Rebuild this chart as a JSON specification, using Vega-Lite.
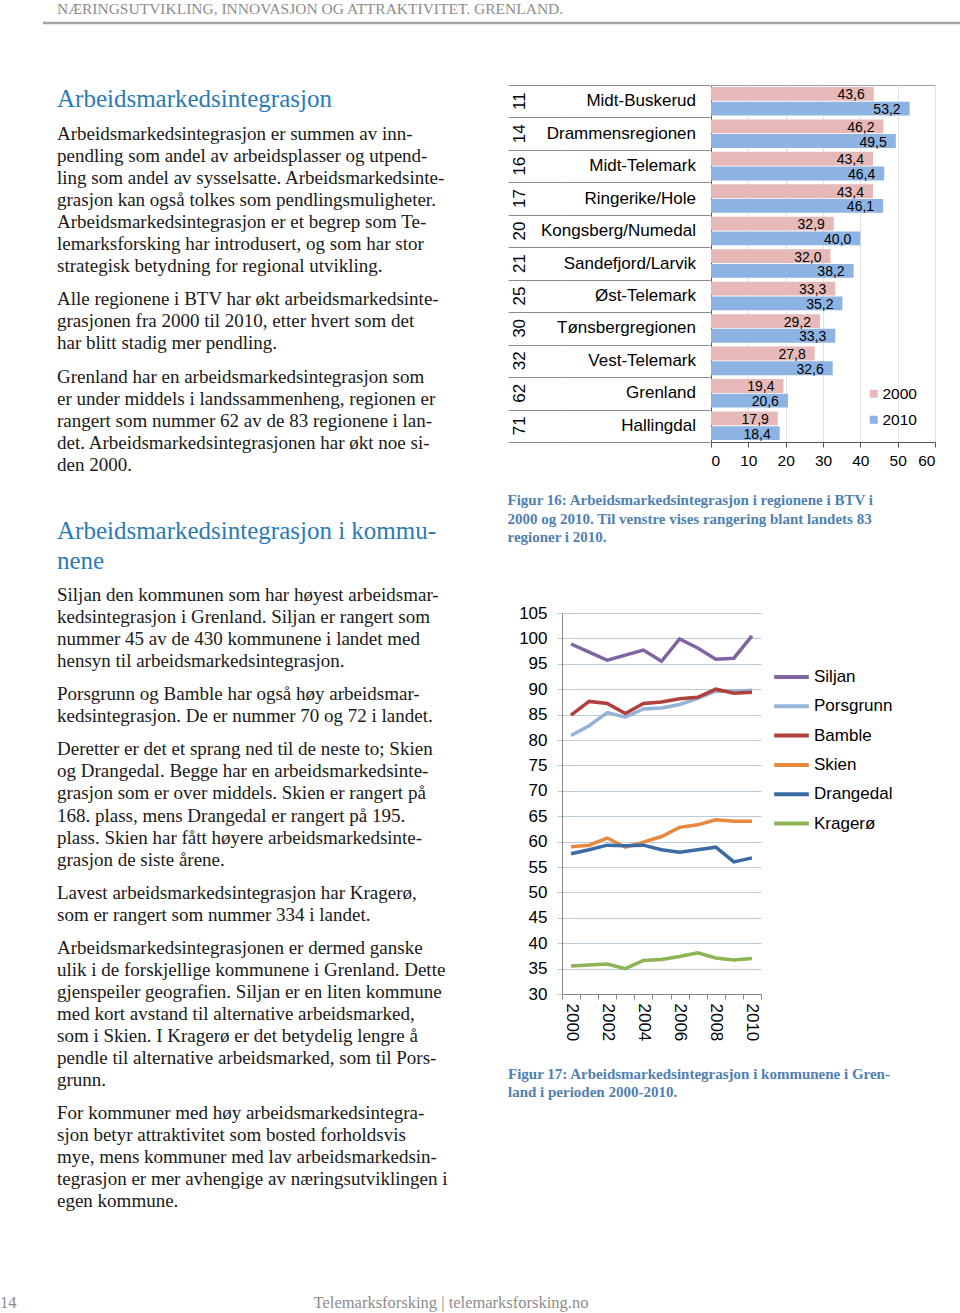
{
  "$schema": "https://vega.github.io/schema/vega-lite/v6.json",
  "padding": 0,
  "background": "white",
  "spacing": 0,
  "config": {
    "view": {"stroke": null},
    "locale": {"number": {"decimal": ",", "thousands": " ", "grouping": [3], "currency": ["", " kr"]}}
  },
  "resolve": {"scale": {"color": "independent", "size": "independent"}, "legend": {"color": "independent", "size": "independent"}},
  "datasets": {
    "text": [
      {"line": 0.64, "kind": "head", "t": "Arbeidsmarkedsintegrasjon"},
      {"line": 2.22, "kind": "body", "t": "Arbeidsmarkedsintegrasjon er summen av inn-"},
      {"line": 3.22, "kind": "body", "t": "pendling som andel av arbeidsplasser og utpend-"},
      {"line": 4.22, "kind": "body", "t": "ling som andel av sysselsatte. Arbeidsmarkedsinte-"},
      {"line": 5.22, "kind": "body", "t": "grasjon kan også tolkes som pendlingsmuligheter."},
      {"line": 6.22, "kind": "body", "t": "Arbeidsmarkedsintegrasjon er et begrep som Te-"},
      {"line": 7.22, "kind": "body", "t": "lemarksforsking har introdusert, og som har stor"},
      {"line": 8.22, "kind": "body", "t": "strategisk betydning for regional utvikling."},
      {"line": 9.72, "kind": "body", "t": "Alle regionene i BTV har økt arbeidsmarkedsinte-"},
      {"line": 10.72, "kind": "body", "t": "grasjonen fra 2000 til 2010, etter hvert som det"},
      {"line": 11.72, "kind": "body", "t": "har blitt stadig mer pendling."},
      {"line": 13.22, "kind": "body", "t": "Grenland har en arbeidsmarkedsintegrasjon som"},
      {"line": 14.22, "kind": "body", "t": "er under middels i landssammenheng, regionen er"},
      {"line": 15.22, "kind": "body", "t": "rangert som nummer 62 av de 83 regionene i lan-"},
      {"line": 16.22, "kind": "body", "t": "det. Arbeidsmarkedsintegrasjonen har økt noe si-"},
      {"line": 17.22, "kind": "body", "t": "den 2000."},
      {"line": 20.23, "kind": "head", "t": "Arbeidsmarkedsintegrasjon i kommu-"},
      {"line": 21.59, "kind": "head", "t": "nene"},
      {"line": 23.13, "kind": "body", "t": "Siljan den kommunen som har høyest arbeidsmar-"},
      {"line": 24.13, "kind": "body", "t": "kedsintegrasjon i Grenland. Siljan er rangert som"},
      {"line": 25.13, "kind": "body", "t": "nummer 45 av de 430 kommunene i landet med"},
      {"line": 26.13, "kind": "body", "t": "hensyn til arbeidsmarkedsintegrasjon."},
      {"line": 27.63, "kind": "body", "t": "Porsgrunn og Bamble har også høy arbeidsmar-"},
      {"line": 28.63, "kind": "body", "t": "kedsintegrasjon. De er nummer 70 og 72 i landet."},
      {"line": 30.13, "kind": "body", "t": "Deretter er det et sprang ned til de neste to; Skien"},
      {"line": 31.13, "kind": "body", "t": "og Drangedal. Begge har en arbeidsmarkedsinte-"},
      {"line": 32.13, "kind": "body", "t": "grasjon som er over middels. Skien er rangert på"},
      {"line": 33.13, "kind": "body", "t": "168. plass, mens Drangedal er rangert på 195."},
      {"line": 34.13, "kind": "body", "t": "plass. Skien har fått høyere arbeidsmarkedsinte-"},
      {"line": 35.13, "kind": "body", "t": "grasjon de siste årene."},
      {"line": 36.63, "kind": "body", "t": "Lavest arbeidsmarkedsintegrasjon har Kragerø,"},
      {"line": 37.63, "kind": "body", "t": "som er rangert som nummer 334 i landet."},
      {"line": 39.13, "kind": "body", "t": "Arbeidsmarkedsintegrasjonen er dermed ganske"},
      {"line": 40.13, "kind": "body", "t": "ulik i de forskjellige kommunene i Grenland. Dette"},
      {"line": 41.13, "kind": "body", "t": "gjenspeiler geografien. Siljan er en liten kommune"},
      {"line": 42.13, "kind": "body", "t": "med kort avstand til alternative arbeidsmarked,"},
      {"line": 43.13, "kind": "body", "t": "som i Skien. I Kragerø er det betydelig lengre å"},
      {"line": 44.13, "kind": "body", "t": "pendle til alternative arbeidsmarked, som til Pors-"},
      {"line": 45.13, "kind": "body", "t": "grunn."},
      {"line": 46.63, "kind": "body", "t": "For kommuner med høy arbeidsmarkedsintegra-"},
      {"line": 47.63, "kind": "body", "t": "sjon betyr attraktivitet som bosted forholdsvis"},
      {"line": 48.63, "kind": "body", "t": "mye, mens kommuner med lav arbeidsmarkedsin-"},
      {"line": 49.63, "kind": "body", "t": "tegrasjon er mer avhengige av næringsutviklingen i"},
      {"line": 50.63, "kind": "body", "t": "egen kommune."}
    ],
    "regions": [
      {"region": "Midt-Buskerud", "rank": "11"},
      {"region": "Drammensregionen", "rank": "14"},
      {"region": "Midt-Telemark", "rank": "16"},
      {"region": "Ringerike/Hole", "rank": "17"},
      {"region": "Kongsberg/Numedal", "rank": "20"},
      {"region": "Sandefjord/Larvik", "rank": "21"},
      {"region": "Øst-Telemark", "rank": "25"},
      {"region": "Tønsbergregionen", "rank": "30"},
      {"region": "Vest-Telemark", "rank": "32"},
      {"region": "Grenland", "rank": "62"},
      {"region": "Hallingdal", "rank": "71"}
    ],
    "bars": [
      {"region": "Midt-Buskerud", "year": "2000", "value": 43.6},
      {"region": "Midt-Buskerud", "year": "2010", "value": 53.2},
      {"region": "Drammensregionen", "year": "2000", "value": 46.2},
      {"region": "Drammensregionen", "year": "2010", "value": 49.5},
      {"region": "Midt-Telemark", "year": "2000", "value": 43.4},
      {"region": "Midt-Telemark", "year": "2010", "value": 46.4},
      {"region": "Ringerike/Hole", "year": "2000", "value": 43.4},
      {"region": "Ringerike/Hole", "year": "2010", "value": 46.1},
      {"region": "Kongsberg/Numedal", "year": "2000", "value": 32.9},
      {"region": "Kongsberg/Numedal", "year": "2010", "value": 40.0},
      {"region": "Sandefjord/Larvik", "year": "2000", "value": 32.0},
      {"region": "Sandefjord/Larvik", "year": "2010", "value": 38.2},
      {"region": "Øst-Telemark", "year": "2000", "value": 33.3},
      {"region": "Øst-Telemark", "year": "2010", "value": 35.2},
      {"region": "Tønsbergregionen", "year": "2000", "value": 29.2},
      {"region": "Tønsbergregionen", "year": "2010", "value": 33.3},
      {"region": "Vest-Telemark", "year": "2000", "value": 27.8},
      {"region": "Vest-Telemark", "year": "2010", "value": 32.6},
      {"region": "Grenland", "year": "2000", "value": 19.4},
      {"region": "Grenland", "year": "2010", "value": 20.6},
      {"region": "Hallingdal", "year": "2000", "value": 17.9},
      {"region": "Hallingdal", "year": "2010", "value": 18.4}
    ],
    "lines": [
      {"kommune": "Siljan", "year": 2000, "value": 98.9},
      {"kommune": "Siljan", "year": 2001, "value": 97.3},
      {"kommune": "Siljan", "year": 2002, "value": 95.7},
      {"kommune": "Siljan", "year": 2003, "value": 96.7},
      {"kommune": "Siljan", "year": 2004, "value": 97.7},
      {"kommune": "Siljan", "year": 2005, "value": 95.5},
      {"kommune": "Siljan", "year": 2006, "value": 99.9},
      {"kommune": "Siljan", "year": 2007, "value": 98.1},
      {"kommune": "Siljan", "year": 2008, "value": 95.9},
      {"kommune": "Siljan", "year": 2009, "value": 96.1},
      {"kommune": "Siljan", "year": 2010, "value": 100.5},
      {"kommune": "Porsgrunn", "year": 2000, "value": 80.9},
      {"kommune": "Porsgrunn", "year": 2001, "value": 82.8},
      {"kommune": "Porsgrunn", "year": 2002, "value": 85.4},
      {"kommune": "Porsgrunn", "year": 2003, "value": 84.5},
      {"kommune": "Porsgrunn", "year": 2004, "value": 86.1},
      {"kommune": "Porsgrunn", "year": 2005, "value": 86.3},
      {"kommune": "Porsgrunn", "year": 2006, "value": 87.0},
      {"kommune": "Porsgrunn", "year": 2007, "value": 88.2},
      {"kommune": "Porsgrunn", "year": 2008, "value": 89.6},
      {"kommune": "Porsgrunn", "year": 2009, "value": 89.6},
      {"kommune": "Porsgrunn", "year": 2010, "value": 89.8},
      {"kommune": "Bamble", "year": 2000, "value": 84.9},
      {"kommune": "Bamble", "year": 2001, "value": 87.6},
      {"kommune": "Bamble", "year": 2002, "value": 87.2},
      {"kommune": "Bamble", "year": 2003, "value": 85.2},
      {"kommune": "Bamble", "year": 2004, "value": 87.2},
      {"kommune": "Bamble", "year": 2005, "value": 87.5},
      {"kommune": "Bamble", "year": 2006, "value": 88.1},
      {"kommune": "Bamble", "year": 2007, "value": 88.4},
      {"kommune": "Bamble", "year": 2008, "value": 90.0},
      {"kommune": "Bamble", "year": 2009, "value": 89.2},
      {"kommune": "Bamble", "year": 2010, "value": 89.4},
      {"kommune": "Skien", "year": 2000, "value": 59.0},
      {"kommune": "Skien", "year": 2001, "value": 59.3},
      {"kommune": "Skien", "year": 2002, "value": 60.7},
      {"kommune": "Skien", "year": 2003, "value": 58.9},
      {"kommune": "Skien", "year": 2004, "value": 59.9},
      {"kommune": "Skien", "year": 2005, "value": 61.0},
      {"kommune": "Skien", "year": 2006, "value": 62.8},
      {"kommune": "Skien", "year": 2007, "value": 63.3},
      {"kommune": "Skien", "year": 2008, "value": 64.3},
      {"kommune": "Skien", "year": 2009, "value": 64.0},
      {"kommune": "Skien", "year": 2010, "value": 64.0},
      {"kommune": "Drangedal", "year": 2000, "value": 57.6},
      {"kommune": "Drangedal", "year": 2001, "value": 58.4},
      {"kommune": "Drangedal", "year": 2002, "value": 59.3},
      {"kommune": "Drangedal", "year": 2003, "value": 59.2},
      {"kommune": "Drangedal", "year": 2004, "value": 59.3},
      {"kommune": "Drangedal", "year": 2005, "value": 58.4},
      {"kommune": "Drangedal", "year": 2006, "value": 57.9},
      {"kommune": "Drangedal", "year": 2007, "value": 58.4},
      {"kommune": "Drangedal", "year": 2008, "value": 58.9},
      {"kommune": "Drangedal", "year": 2009, "value": 56.0},
      {"kommune": "Drangedal", "year": 2010, "value": 56.8},
      {"kommune": "Kragerø", "year": 2000, "value": 35.5},
      {"kommune": "Kragerø", "year": 2001, "value": 35.7},
      {"kommune": "Kragerø", "year": 2002, "value": 35.9},
      {"kommune": "Kragerø", "year": 2003, "value": 35.0},
      {"kommune": "Kragerø", "year": 2004, "value": 36.6},
      {"kommune": "Kragerø", "year": 2005, "value": 36.8},
      {"kommune": "Kragerø", "year": 2006, "value": 37.4},
      {"kommune": "Kragerø", "year": 2007, "value": 38.1},
      {"kommune": "Kragerø", "year": 2008, "value": 37.1},
      {"kommune": "Kragerø", "year": 2009, "value": 36.7},
      {"kommune": "Kragerø", "year": 2010, "value": 37.0}
    ]
  },
  "vconcat": [
    {
      "width": 960,
      "height": 84,
      "view": {"stroke": null},
      "layer": [
        {
          "data": {"values": [{"t": "NÆRINGSUTVIKLING, INNOVASJON OG ATTRAKTIVITET. GRENLAND."}]},
          "mark": {"type": "text", "align": "left", "baseline": "middle", "font": "Liberation Serif", "fontSize": 15.5, "color": "#8c8c8c"},
          "encoding": {
            "x": {"datum": 57, "type": "quantitative", "scale": {"domain": [0, 960], "nice": false}, "axis": null},
            "y": {"datum": 9, "type": "quantitative", "scale": {"domain": [0, 84], "nice": false, "reverse": true}, "axis": null},
            "text": {"field": "t"}
          }
        },
        {
          "data": {"values": [{"t": "rule"}]},
          "mark": {"type": "rule", "color": "#a6a6a6", "strokeWidth": 2.5},
          "encoding": {
            "x": {"datum": 43, "type": "quantitative"},
            "x2": {"datum": 960},
            "y": {"datum": 23, "type": "quantitative"}
          }
        }
      ]
    },
    {
      "hconcat": [
        {
          "width": 480,
          "height": 1140,
          "view": {"stroke": null},
          "data": {"name": "text"},
          "mark": {"type": "text", "align": "left", "baseline": "middle", "font": "Liberation Serif"},
          "encoding": {
            "x": {"datum": 57, "type": "quantitative", "scale": {"domain": [0, 480], "nice": false}, "axis": null},
            "y": {"field": "line", "type": "quantitative", "scale": {"domain": [0, 51.7], "nice": false, "zero": false, "reverse": true}, "axis": null},
            "text": {"field": "t"},
            "color": {"field": "kind", "type": "nominal", "scale": {"domain": ["head", "body"], "range": ["#2a7ab8", "#1a1a1a"]}, "legend": null},
            "size": {"field": "kind", "type": "ordinal", "scale": {"domain": ["head", "body"], "range": [25, 19]}, "legend": null}
          }
        },
        {
          "vconcat": [
            {
              "title": {
                "text": ["Figur 16: Arbeidsmarkedsintegrasjon i regionene i BTV i", "2000 og 2010. Til venstre vises rangering blant landets 83", "regioner i 2010."],
                "orient": "bottom", "anchor": "start", "frame": "bounds",
                "font": "Liberation Serif", "fontSize": 15, "fontWeight": "bold", "color": "#4f7fb3", "lineHeight": 18.5, "offset": 24
              },
              "spacing": 0,
              "resolve": {"scale": {"color": "independent"}, "legend": {"color": "independent"}},
              "hconcat": [
                {
                  "width": 148,
                  "height": 357,
                  "view": {"stroke": null},
                  "data": {"name": "regions"},
                  "encoding": {
                    "y": {"field": "region", "type": "nominal", "sort": null, "scale": {"paddingInner": 0, "paddingOuter": 0},
                      "axis": {"grid": true, "tickBand": "extent", "domain": false, "ticks": true, "tickSize": 54, "tickColor": "#8c8c8c", "tickWidth": 1, "labels": false, "title": null, "gridColor": "#8c8c8c", "gridWidth": 1}}
                  },
                  "layer": [
                    {
                      "mark": {"type": "text", "align": "right", "baseline": "middle", "dx": -14, "font": "Liberation Sans", "fontSize": 17, "color": "#000000"},
                      "encoding": {
                        "x": {"datum": 148, "type": "quantitative", "scale": {"domain": [0, 148], "nice": false}, "axis": null},
                        "text": {"field": "region"}
                      }
                    },
                    {
                      "mark": {"type": "text", "align": "center", "baseline": "middle", "angle": 270, "font": "Liberation Sans", "fontSize": 17, "color": "#000000"},
                      "encoding": {
                        "x": {"datum": -42, "type": "quantitative"},
                        "text": {"field": "rank"}
                      }
                    }
                  ]
                },
                {
                  "width": 224,
                  "height": 357,
                  "view": {"stroke": "#a0a0a0"},
                  "data": {"name": "bars"},
                  "encoding": {
                    "y": {"field": "region", "type": "nominal", "sort": null, "scale": {"paddingInner": 0.12, "paddingOuter": 0.06},
                      "axis": {"labels": false, "ticks": false, "title": null, "grid": false, "domainColor": "#555555"}},
                    "yOffset": {"field": "year", "type": "nominal", "scale": {"paddingInner": 0.06}},
                    "x": {"field": "value", "type": "quantitative", "scale": {"domain": [0, 60], "nice": false},
                      "axis": {"values": [0, 10, 20, 30, 40, 50, 60], "title": null, "grid": true, "gridColor": "#e2e2e2", "domainColor": "#555555", "tickColor": "#555555", "tickSize": 5, "labelFontSize": 15.5, "labelFont": "Liberation Sans", "labelColor": "#000000", "labelPadding": 6}}
                  },
                  "layer": [
                    {
                      "mark": {"type": "bar"},
                      "encoding": {
                        "color": {"field": "year", "type": "nominal", "scale": {"domain": ["2000", "2010"], "range": ["#e6b9b8", "#8db3e2"]},
                          "legend": {"orient": "none", "legendX": 155, "legendY": 301, "title": null, "symbolType": "square", "symbolSize": 64, "labelFontSize": 15.5, "labelFont": "Liberation Sans", "labelColor": "#000000", "rowPadding": 9, "labelOffset": 1}}
                      }
                    },
                    {
                      "mark": {"type": "text", "align": "right", "baseline": "middle", "dx": -9, "dy": 1.5, "font": "Liberation Sans", "fontSize": 14, "color": "#000000"},
                      "encoding": {
                        "text": {"field": "value", "type": "quantitative", "format": ".1f"}
                      }
                    }
                  ]
                }
              ]
            },
            {
              "title": {
                "text": ["Figur 17: Arbeidsmarkedsintegrasjon i kommunene i Gren-", "land i perioden 2000-2010."],
                "orient": "bottom", "anchor": "start", "frame": "bounds",
                "font": "Liberation Serif", "fontSize": 15, "fontWeight": "bold", "color": "#4f7fb3", "lineHeight": 18.5, "offset": 26
              },
              "width": 199,
              "height": 381,
              "view": {"stroke": null},
              "data": {"name": "lines"},
              "mark": {"type": "line", "strokeWidth": 3.5},
              "encoding": {
                "x": {"field": "year", "type": "ordinal", "bandPosition": 0.5, "scale": {"type": "band", "paddingInner": 0, "paddingOuter": 0},
                  "axis": {"title": null, "tickBand": "extent", "labelAngle": 90, "labelAlign": "left", "labelBaseline": "middle", "labelExpr": "datum.value % 2 == 0 ? datum.label : ''", "labelFontSize": 17, "labelFont": "Liberation Sans", "labelColor": "#000000", "tickSize": 5, "tickColor": "#888888", "domainColor": "#888888", "labelPadding": 4, "grid": false}},
                "y": {"field": "value", "type": "quantitative", "scale": {"domain": [30, 105], "nice": false, "zero": false},
                  "axis": {"values": [30, 35, 40, 45, 50, 55, 60, 65, 70, 75, 80, 85, 90, 95, 100, 105], "title": null, "grid": true, "gridColor": "#bccadb", "tickColor": "#bccadb", "tickSize": 5, "domainColor": "#888888", "labelFontSize": 17, "labelFont": "Liberation Sans", "labelColor": "#000000", "labelPadding": 10, "minExtent": 54}},
                "color": {"field": "kommune", "type": "nominal", "sort": null,
                  "scale": {"domain": ["Siljan", "Porsgrunn", "Bamble", "Skien", "Drangedal", "Kragerø"], "range": ["#8064a2", "#95b3d7", "#b0403c", "#e8883e", "#3b6ba5", "#8db352"]},
                  "legend": {"orient": "none", "legendX": 210, "legendY": 55, "title": null, "symbolType": "stroke", "symbolSize": 1200, "symbolStrokeWidth": 4, "labelFontSize": 17, "labelFont": "Liberation Sans", "labelColor": "#000000", "clipHeight": 18, "rowPadding": 11.3, "labelOffset": 3}}
              }
            }
          ],
          "spacing": 59,
          "resolve": {"scale": {"color": "independent"}, "legend": {"color": "independent"}}
        }
      ],
      "spacing": 27,
      "resolve": {"scale": {"color": "independent", "size": "independent"}, "legend": {"color": "independent", "size": "independent"}}
    },
    {
      "width": 960,
      "height": 89,
      "view": {"stroke": null},
      "data": {"values": [{"t": "14", "pos": "left"}, {"t": "Telemarksforsking   |   telemarksforsking.no", "pos": "center"}]},
      "layer": [
        {
          "transform": [{"filter": "datum.pos == 'left'"}],
          "mark": {"type": "text", "align": "left", "baseline": "middle", "font": "Liberation Serif", "fontSize": 16.5, "color": "#8c8c8c"},
          "encoding": {
            "x": {"datum": 0, "type": "quantitative", "scale": {"domain": [0, 960], "nice": false}, "axis": null},
            "y": {"datum": 78, "type": "quantitative", "scale": {"domain": [0, 89], "nice": false, "reverse": true}, "axis": null},
            "text": {"field": "t"}
          }
        },
        {
          "transform": [{"filter": "datum.pos == 'center'"}],
          "mark": {"type": "text", "align": "center", "baseline": "middle", "font": "Liberation Serif", "fontSize": 16.5, "color": "#8c8c8c"},
          "encoding": {
            "x": {"datum": 451, "type": "quantitative"},
            "y": {"datum": 78, "type": "quantitative"},
            "text": {"field": "t"}
          }
        }
      ]
    }
  ]
}
